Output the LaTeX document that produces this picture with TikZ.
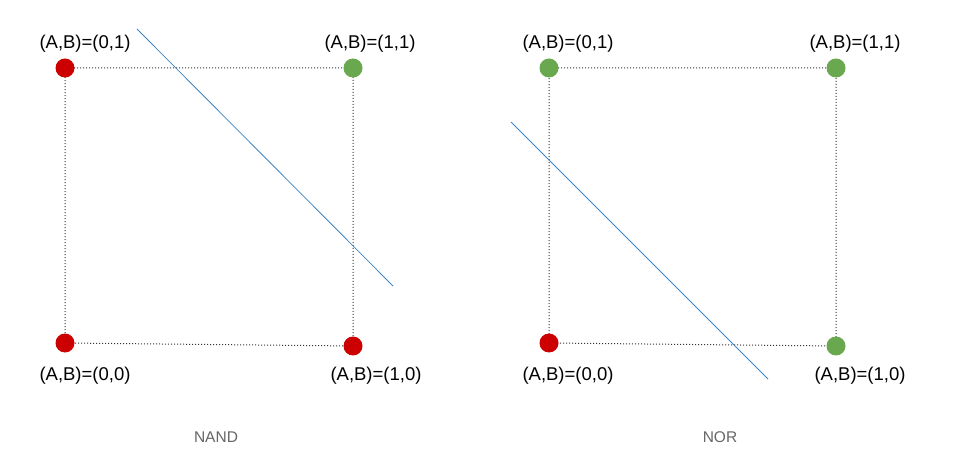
\documentclass[tikz,border=0pt]{standalone}
\usepackage{fontspec}
\setmainfont{Liberation Sans}
\definecolor{dred}{HTML}{CC0000}
\definecolor{dgreen}{HTML}{6AA84F}
\definecolor{lblue}{HTML}{3D85C6}
\definecolor{lgray}{HTML}{666666}
\begin{document}
\begin{tikzpicture}[x=1pt,y=-1pt,
  dot/.style={circle,inner sep=0pt,minimum size=19pt},
  reddot/.style={dot,fill=dred},
  greendot/.style={dot,fill=dgreen},
  edge/.style={line width=1pt,black!80,dash pattern=on 1pt off 2pt},
  sep/.style={lblue,line width=0.8pt},
  lbl/.style={font=\fontsize{18.5}{20}\selectfont,inner sep=0pt},
  gatelabel/.style={font=\fontsize{15.5}{18}\selectfont,text=lgray,inner sep=0pt}]
\useasboundingbox (0,0) rectangle (961,462);
% NAND
\coordinate (n01) at (65,68);
\coordinate (n11) at (353,68);
\coordinate (n00) at (65,343);
\coordinate (n10) at (353,346);
\draw[edge] (n01) -- (n11) -- (n10) -- (n00) -- cycle;
\node[reddot] (d01) at (n01) {};
\node[greendot] (d11) at (n11) {};
\node[reddot] (d00) at (n00) {};
\node[reddot] (d10) at (n10) {};
\coordinate (ls1) at (137,29);
\coordinate (le1) at (393,286);
\draw[sep] (ls1) -- (le1);
\node[lbl] (t01) at (85,44) {(A,B)=(0,1)};
\node[lbl] (t11) at (370,44) {(A,B)=(1,1)};
\node[lbl] (t00) at (85,376) {(A,B)=(0,0)};
\node[lbl] (t10) at (376,376) {(A,B)=(1,0)};
\node[gatelabel] (nand) at (216,437) {NAND};
% NOR
\coordinate (m01) at (549,68);
\coordinate (m11) at (836,68);
\coordinate (m00) at (549,343);
\coordinate (m10) at (836,346);
\draw[edge] (m01) -- (m11) -- (m10) -- (m00) -- cycle;
\node[greendot] (e01) at (m01) {};
\node[greendot] (e11) at (m11) {};
\node[reddot] (e00) at (m00) {};
\node[greendot] (e10) at (m10) {};
\coordinate (ls2) at (511,122);
\coordinate (le2) at (768,379);
\draw[sep] (ls2) -- (le2);
\node[lbl] (u01) at (568,44) {(A,B)=(0,1)};
\node[lbl] (u11) at (855,44) {(A,B)=(1,1)};
\node[lbl] (u00) at (568,376) {(A,B)=(0,0)};
\node[lbl] (u10) at (860,376) {(A,B)=(1,0)};
\node[gatelabel] (nor) at (720,437) {NOR};
\end{tikzpicture}
\end{document}
